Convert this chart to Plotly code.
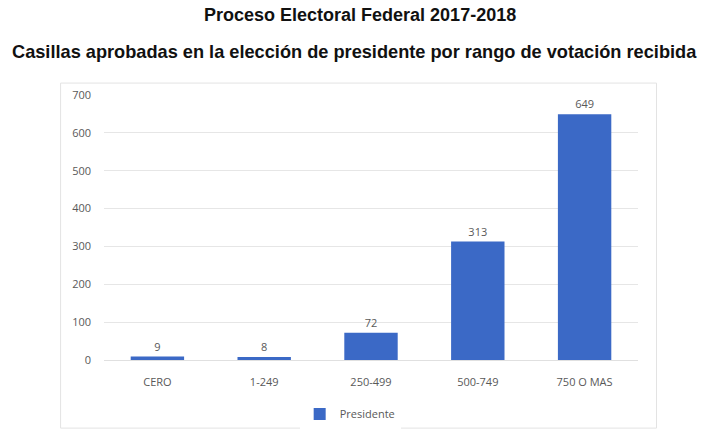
import plotly.graph_objects as go

categories = ["CERO", "1-249", "250-499", "500-749", "750 O MAS"]
values = [9, 8, 72, 313, 649]
series_name = "Presidente"
y_ticks = [0, 100, 200, 300, 400, 500, 600, 700]

fig = go.Figure()
fig.add_trace(go.Bar(
    x=categories, y=values, name=series_name,
    marker=dict(color="#3b69c6", line=dict(width=0)),
    width=0.5,
    text=[str(v) for v in values], textposition="outside",
    textfont=dict(family="Open Sans", size=11, color="#595959"),
    cliponaxis=False,
))

fig.update_layout(
    width=705, height=434,
    margin=dict(l=103.5, r=66.5, t=95, b=74, autoexpand=False),
    paper_bgcolor="white", plot_bgcolor="white",
    showlegend=True,
    legend=dict(orientation="h", x=0.461, xanchor="center", y=-0.204, yanchor="middle",
                font=dict(family="Open Sans", size=11, color="#595959")),
    xaxis=dict(showgrid=False, showline=True, linecolor="#e0e0e0", ticks="",
               ticklabelstandoff=12, automargin=False,
               tickfont=dict(family="Open Sans", size=11, color="#595959")),
    yaxis=dict(range=[0, 700], tickvals=y_ticks, showgrid=True, gridcolor="#e6e6e6",
               zeroline=False, ticks="", showline=False, ticklabelstandoff=12, automargin=False,
               tickfont=dict(family="Open Sans", size=11, color="#595959")),
    bargap=0.5,
)

fig.add_shape(type="rect", xref="paper", yref="paper",
              x0=-0.0813, x1=1.0346, y0=-0.257, y1=1.045,
              line=dict(color="#e3e3e3", width=1), layer="below")

fig.add_annotation(text="<b>Proceso Electoral Federal 2017-2018</b>", xref="paper", yref="paper",
                   x=0.4794, y=1.30, showarrow=False, yanchor="middle",
                   font=dict(family="Liberation Sans", size=18, color="#111111"))
fig.add_annotation(text="<b>Casillas aprobadas en la elección de presidente por rango de votación recibida</b>",
                   xref="paper", yref="paper",
                   x=0.4695, y=1.162, showarrow=False, yanchor="middle",
                   font=dict(family="Liberation Sans", size=18.2, color="#111111"))

fig.write_html("out.html", config={"displayModeBar": False},
               post_script="document.body.style.margin='0';")
